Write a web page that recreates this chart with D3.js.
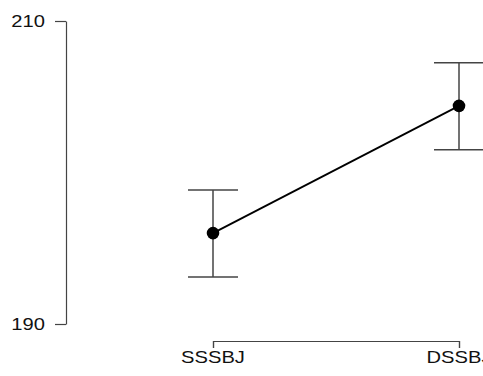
<!DOCTYPE html>
<html>
<head>
<meta charset="utf-8">
<script src="https://cdnjs.cloudflare.com/ajax/libs/d3/7.8.5/d3.min.js"></script>
<style>
  body { margin: 0; background: #fff; }
  text { font-family: "Liberation Sans", Arial, sans-serif; }
</style>
</head>
<body>
<script>
// values
var groups = ["SSSBJ", "DSSBJ"];
var means = [196.0, 204.4];
var upper = [198.85, 207.25];
var lower = [193.1, 201.5];
var yTicks = [190, 210];

var w = 483, h = 376;
var stretch = 1.26; // text in the picture is widened

var svg = d3.select("body").append("svg")
  .attr("width", w)
  .attr("height", h);

var x = d3.scalePoint().domain(groups).range([213, 459]);
var y = d3.scaleLinear().domain([190, 210]).range([324, 21]);

// y axis
var yAxis = svg.append("g")
  .attr("transform", "translate(66,0)")
  .call(d3.axisLeft(y).tickValues(yTicks).tickSize(11).tickSizeOuter(0).tickFormat(""));
yAxis.selectAll("path, line").attr("stroke", "#444").attr("stroke-width", 1.2);

svg.selectAll(".ylab")
  .data(yTicks)
  .enter()
  .append("text")
  .attr("class", "ylab")
  .attr("text-anchor", "end")
  .attr("font-size", 16)
  .attr("fill", "#111")
  .attr("transform", function(d) {
    return "translate(45," + (y(d) + 5.7) + ") scale(" + stretch + ",1)";
  })
  .text(function(d) { return d; });

// x axis bracket
var xAxis = svg.append("g")
  .attr("transform", "translate(0,341)")
  .call(d3.axisBottom(x).tickSizeInner(7).tickSizeOuter(7).tickFormat(""));
xAxis.selectAll("path, line").attr("stroke", "#444").attr("stroke-width", 1.2);

svg.selectAll(".xlab")
  .data(groups)
  .enter()
  .append("text")
  .attr("class", "xlab")
  .attr("text-anchor", "middle")
  .attr("font-size", 16)
  .attr("fill", "#111")
  .attr("transform", function(d) {
    return "translate(" + x(d) + ",363) scale(" + stretch + ",1)";
  })
  .text(function(d) { return d; });

// error bars
var capHalf = 25;
var bars = svg.selectAll(".err")
  .data(groups)
  .enter()
  .append("g")
  .attr("class", "err")
  .attr("stroke", "#444")
  .attr("stroke-width", 1.5);

bars.append("line")
  .attr("x1", function(d) { return x(d); })
  .attr("x2", function(d) { return x(d); })
  .attr("y1", function(d, i) { return y(lower[i]); })
  .attr("y2", function(d, i) { return y(upper[i]); });
bars.append("line")
  .attr("x1", function(d) { return x(d) - capHalf; })
  .attr("x2", function(d) { return x(d) + capHalf; })
  .attr("y1", function(d, i) { return y(upper[i]); })
  .attr("y2", function(d, i) { return y(upper[i]); });
bars.append("line")
  .attr("x1", function(d) { return x(d) - capHalf; })
  .attr("x2", function(d) { return x(d) + capHalf; })
  .attr("y1", function(d, i) { return y(lower[i]); })
  .attr("y2", function(d, i) { return y(lower[i]); });

// mean line and points
var line = d3.line()
  .x(function(d, i) { return x(groups[i]); })
  .y(function(d) { return y(d); });

svg.append("path")
  .datum(means)
  .attr("d", line)
  .attr("fill", "none")
  .attr("stroke", "#000")
  .attr("stroke-width", 1.8);

svg.selectAll(".pt")
  .data(means)
  .enter()
  .append("circle")
  .attr("class", "pt")
  .attr("cx", function(d, i) { return x(groups[i]); })
  .attr("cy", function(d) { return y(d); })
  .attr("r", 6.3)
  .attr("fill", "#000");
</script>
</body>
</html>
